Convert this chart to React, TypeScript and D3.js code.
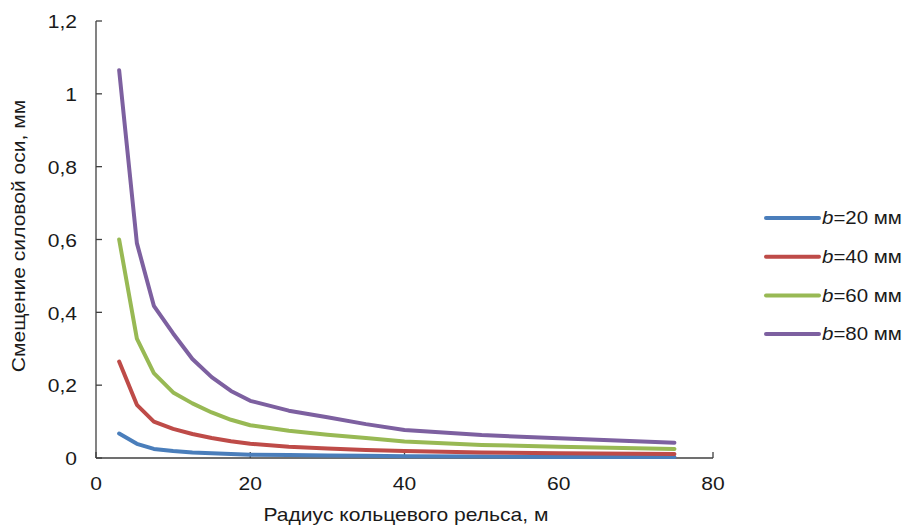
import React from 'react'
import * as d3 from 'd3'

// радиус кольцевого рельса, м
const radius = [3, 5.3, 7.5, 10, 12.5, 15, 17.5, 20, 25, 30, 35, 40, 50, 60, 75]

// смещение силовой оси, мм
const b20 = [0.067, 0.039, 0.025, 0.019, 0.015, 0.013, 0.011, 0.009, 0.008, 0.007, 0.006, 0.005, 0.004, 0.003, 0.003]
const b40 = [0.265, 0.146, 0.1, 0.08, 0.066, 0.055, 0.046, 0.039, 0.031, 0.026, 0.022, 0.019, 0.015, 0.013, 0.011]
const b60 = [0.6, 0.328, 0.233, 0.18, 0.15, 0.125, 0.105, 0.09, 0.075, 0.064, 0.055, 0.045, 0.036, 0.031, 0.025]
const b80 = [1.065, 0.59, 0.418, 0.342, 0.272, 0.222, 0.184, 0.157, 0.13, 0.112, 0.093, 0.077, 0.063, 0.054, 0.042]

const seriesNames = ['20', '40', '60', '80']
const seriesValues = [b20, b40, b60, b80]
const colors = ['#4a7ebb', '#be4b48', '#98b954', '#7d60a0']

const xTicks = [0, 20, 40, 60, 80]
const yTicks = [0, 0.2, 0.4, 0.6, 0.8, 1, 1.2]

const font = 'Liberation Sans, Arial, sans-serif'
const stretch = 1.17 // the picture is a bit wider than tall

const Label = ({ x, y, anchor, rotate = 0, size = 18, dy, children }: any) => (
  <text
    transform={`translate(${x},${y}) rotate(${rotate}) scale(${stretch},1)`}
    textAnchor={anchor}
    dy={dy}
    fontFamily={font}
    fontSize={size}
    fill="#1a1a1a"
  >
    {children}
  </text>
)

const App = () => {
  const width = 905
  const height = 528
  const x = d3.scaleLinear().domain([0, 80]).range([96, 713])
  const y = d3.scaleLinear().domain([0, 1.2]).range([458, 21])
  const fmt = (v: number) => String(v).replace('.', ',')

  const line = d3
    .line<[number, number]>()
    .x(d => x(d[0]))
    .y(d => y(d[1]))

  return (
    <svg width={width} height={height} style={{ position: 'absolute', left: 0, top: 0 }}>
      <rect width={width} height={height} fill="#fff" />
      {/* y axis */}
      <line x1={x(0)} x2={x(0)} y1={y(0)} y2={y(1.2)} stroke="#404040" strokeWidth={1.3} />
      {yTicks.map(t => (
        <g key={'y' + t}>
          <line x1={x(0)} x2={x(0) + 6} y1={y(t)} y2={y(t)} stroke="#404040" strokeWidth={1.3} />
          <Label x={x(0) - 19} y={y(t) + 1} anchor="end" dy="0.35em">
            {fmt(t)}
          </Label>
        </g>
      ))}
      {/* x axis */}
      <line x1={x(0)} x2={x(80)} y1={y(0)} y2={y(0)} stroke="#404040" strokeWidth={1.3} />
      {xTicks.map(t => (
        <g key={'x' + t}>
          <line x1={x(t)} x2={x(t)} y1={y(0)} y2={y(0) - 6} stroke="#404040" strokeWidth={1.3} />
          <Label x={x(t)} y={490} anchor="middle">
            {t}
          </Label>
        </g>
      ))}

      {seriesValues.map((vals, i) => (
        <path
          key={seriesNames[i]}
          d={line(radius.map((r, j) => [r, vals[j]] as [number, number])) || ''}
          fill="none"
          stroke={colors[i]}
          strokeWidth={4}
          strokeLinecap="round"
          strokeLinejoin="round"
        />
      ))}

      {/* legend */}
      {seriesNames.map((n, i) => {
        const ly = 218 + i * 38.7
        return (
          <g key={'lg' + n}>
            <line x1={766} x2={819} y1={ly} y2={ly} stroke={colors[i]} strokeWidth={4} strokeLinecap="round" />
            <Label x={822} y={ly} anchor="start" size={17.5} dy="0.35em">
              <tspan fontStyle="italic">b</tspan>={n} мм
            </Label>
          </g>
        )
      })}

      <Label x={406} y={521} anchor="middle">
        Радиус кольцевого рельса, м
      </Label>
      <Label x={25} y={236} anchor="middle" rotate={-90}>
        Смещение силовой оси, мм
      </Label>
    </svg>
  )
}

export default App
